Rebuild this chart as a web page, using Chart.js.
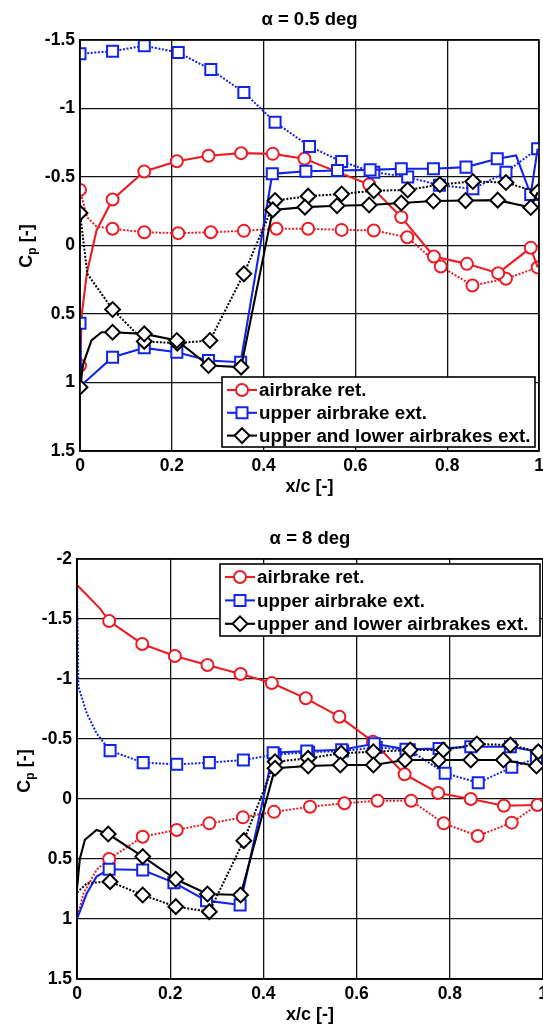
<!DOCTYPE html>
<html>
<head>
<meta charset="utf-8">
<script src="https://cdn.jsdelivr.net/npm/chart.js@4.4.1/dist/chart.umd.min.js"></script>
<style>
  html, body { margin: 0; padding: 0; background: #fff; width: 543px; height: 1024px; overflow: hidden; }
  .panel { position: absolute; left: 0; }
  #panelA { top: 0; }
  #panelB { top: 519px; }
  canvas { display: block; }
</style>
</head>
<body>
<div class="panel" id="panelA"><canvas id="cpA" width="549" height="505"></canvas></div>
<div class="panel" id="panelB"><canvas id="cpB" width="553" height="505"></canvas></div>
<script>
// ---------- axis ticks and labels ----------
const xTicks = [0, 0.2, 0.4, 0.6, 0.8, 1];
const xTickLabels = ['0', '0.2', '0.4', '0.6', '0.8', '1'];
const yTicksA = [-1.5, -1, -0.5, 0, 0.5, 1, 1.5];
const yTickLabelsA = ['-1.5', '-1', '-0.5', '0', '0.5', '1', '1.5'];
const yTicksB = [-2, -1.5, -1, -0.5, 0, 0.5, 1, 1.5];
const yTickLabelsB = ['-2', '-1.5', '-1', '-0.5', '0', '0.5', '1', '1.5'];

const titleA = 'α = 0.5 deg';
const titleB = 'α = 8 deg';
const xTitle = 'x/c [-]';
const seriesNames = ['airbrake ret.', 'upper airbrake ext.', 'upper and lower airbrakes ext.'];

// ---------- alpha = 0.5 deg ----------
// tap values (marked) and additional line vertices (unmarked)
const a1RetSolidX   = [0, 0.071, 0.14, 0.211, 0.28, 0.351, 0.42, 0.489, 0.63, 0.70, 0.771, 0.843, 0.911, 0.982];
const a1RetSolidCp  = [0.876, -0.336, -0.54, -0.615, -0.655, -0.674, -0.669, -0.633, -0.445, -0.207, 0.08, 0.134, 0.202, 0.017];
const a1RetSolidLX  = [0.004, 0.015, 0.036, 0.997];
const a1RetSolidLCp = [0.5, 0.2, -0.11, 0.16];

const a1RetDotX   = [0, 0.071, 0.14, 0.214, 0.285, 0.357, 0.428, 0.497, 0.57, 0.64, 0.713, 0.786, 0.855, 0.928, 0.997];
const a1RetDotCp  = [-0.406, -0.122, -0.097, -0.09, -0.097, -0.107, -0.122, -0.122, -0.114, -0.11, -0.06, 0.153, 0.292, 0.243, 0.16];
const a1RetDotLX  = [0.015, 0.036];
const a1RetDotLCp = [-0.207, -0.139];

const a1UpSolidX   = [0, 0.071, 0.14, 0.211, 0.28, 0.35, 0.419, 0.492, 0.561, 0.632, 0.70, 0.77, 0.841, 0.909, 0.982];
const a1UpSolidCp  = [0.567, 0.815, 0.747, 0.779, 0.839, 0.852, -0.523, -0.542, -0.547, -0.552, -0.56, -0.56, -0.572, -0.633, -0.372];
const a1UpSolidLX  = [0.003, 0.95, 0.997];
const a1UpSolidLCp = [1.02, -0.657, -0.706];

const a1UpDotX  = [0, 0.071, 0.14, 0.214, 0.285, 0.357, 0.425, 0.50, 0.57, 0.64, 0.714, 0.783, 0.856, 0.928, 0.997];
const a1UpDotCp = [-1.40, -1.418, -1.458, -1.409, -1.285, -1.117, -0.90, -0.723, -0.613, -0.535, -0.50, -0.44, -0.414, -0.535, -0.706];

const a1BothSolidX   = [0, 0.071, 0.14, 0.211, 0.28, 0.351, 0.42, 0.49, 0.56, 0.63, 0.70, 0.77, 0.84, 0.91, 0.982];
const a1BothSolidCp  = [1.034, 0.633, 0.645, 0.693, 0.876, 0.888, -0.26, -0.28, -0.29, -0.296, -0.31, -0.325, -0.328, -0.331, -0.277];
const a1BothSolidLX  = [0.007, 0.025, 0.047, 0.997];
const a1BothSolidLCp = [0.864, 0.693, 0.633, -0.389];

const a1BothDotX   = [0, 0.071, 0.14, 0.212, 0.283, 0.357, 0.425, 0.497, 0.57, 0.64, 0.714, 0.784, 0.856, 0.928, 0.997];
const a1BothDotCp  = [-0.238, 0.467, 0.70, 0.713, 0.693, 0.207, -0.328, -0.36, -0.376, -0.40, -0.405, -0.445, -0.467, -0.46, -0.389];
const a1BothDotLX  = [0.016];
const a1BothDotLCp = [0.207];

// ---------- alpha = 8 deg ----------
const a2RetSolidX   = [0.069, 0.14, 0.21, 0.28, 0.351, 0.418, 0.491, 0.563, 0.635, 0.703, 0.775, 0.845, 0.916, 0.988];
const a2RetSolidCp  = [-1.483, -1.292, -1.192, -1.117, -1.042, -0.966, -0.839, -0.686, -0.478, -0.206, -0.05, 0.0, 0.056, 0.05];
const a2RetSolidLX  = [0, 0.049];
const a2RetSolidLCp = [-1.783, -1.589];

const a2RetDotX   = [0.069, 0.141, 0.214, 0.284, 0.356, 0.423, 0.50, 0.574, 0.645, 0.717, 0.787, 0.86, 0.933];
const a2RetDotCp  = [0.5, 0.314, 0.258, 0.203, 0.153, 0.107, 0.064, 0.036, 0.014, 0.014, 0.203, 0.308, 0.197];
const a2RetDotLX  = [0, 0.014, 0.042, 0.988];
const a2RetDotLCp = [1.0, 0.786, 0.59, 0.05];

const a2UpSolidX   = [0.069, 0.141, 0.208, 0.278, 0.35, 0.421, 0.493, 0.568, 0.638, 0.706, 0.777, 0.845, 0.93, 0.996];
const a2UpSolidCp  = [0.586, 0.592, 0.697, 0.847, 0.883, -0.385, -0.40, -0.41, -0.46, -0.415, -0.42, -0.435, -0.435, -0.39];
const a2UpSolidLX  = [0, 0.021, 0.042];
const a2UpSolidLCp = [1.0, 0.786, 0.647];

const a2UpDotX   = [0.071, 0.142, 0.214, 0.284, 0.357, 0.425, 0.497, 0.57, 0.642, 0.713, 0.79, 0.861, 0.933, 0.986];
const a2UpDotCp  = [-0.403, -0.303, -0.289, -0.303, -0.325, -0.37, -0.39, -0.40, -0.43, -0.41, -0.214, -0.136, -0.264, -0.34];
const a2UpDotLX  = [0, 0.003, 0.021, 0.042];
const a2UpDotLCp = [-1.77, -0.936, -0.714, -0.547];

const a2BothSolidX   = [0.067, 0.141, 0.212, 0.28, 0.351, 0.425, 0.496, 0.565, 0.636, 0.704, 0.776, 0.845, 0.915, 0.986];
const a2BothSolidCp  = [0.292, 0.48, 0.669, 0.792, 0.80, -0.256, -0.275, -0.283, -0.283, -0.325, -0.325, -0.325, -0.325, -0.275];
const a2BothSolidLX  = [0, 0.006, 0.017, 0.042];
const a2BothSolidLCp = [0.75, 0.5, 0.34, 0.258];

const a2BothDotX   = [0.071, 0.141, 0.212, 0.284, 0.358, 0.425, 0.496, 0.567, 0.636, 0.715, 0.786, 0.858, 0.93, 0.99];
const a2BothDotCp  = [0.689, 0.80, 0.897, 0.939, 0.347, -0.31, -0.339, -0.381, -0.394, -0.408, -0.408, -0.458, -0.45, -0.394];
const a2BothDotLX  = [0, 0.022];
const a2BothDotLCp = [0.78, 0.70];

// ---------- styling ----------
const RED = 'rgb(236,28,36)';
const BLUE = 'rgb(18,36,236)';
const BLACK = 'rgb(0,0,0)';
const FONT = '"Liberation Sans", Arial, Helvetica, sans-serif';
const MARK = { circle: 6, rect: 7.8, rectRot: 7.4 };
const legendStyles = [
  { color: RED, marker: 'circle' },
  { color: BLUE, marker: 'rect' },
  { color: BLACK, marker: 'rectRot' }
];

function points(xs, cps, lx, lcp) {
  const pts = xs.map((x, i) => ({ x: x, y: cps[i], m: true }));
  (lx || []).forEach((x, i) => pts.push({ x: x, y: lcp[i], m: false }));
  pts.sort((a, b) => a.x - b.x);
  return pts;
}

function line(label, color, dotted, marker, data) {
  return {
    label: label,
    data: data,
    borderColor: color,
    backgroundColor: '#fff',
    borderWidth: dotted ? 2 : 2.1,
    borderDash: dotted ? [2, 1.6] : [],
    tension: 0,
    pointStyle: marker,
    pointRadius: c => (c.raw && c.raw.m ? MARK[marker] : 0),
    pointBorderWidth: 2,
    pointBorderColor: color,
    pointBackgroundColor: '#fff',
    fill: false
  };
}

function drawMarker(ctx, style, x, y, color) {
  const r = MARK[style];
  ctx.save();
  ctx.beginPath();
  if (style === 'circle') {
    ctx.arc(x, y, r, 0, Math.PI * 2);
  } else if (style === 'rect') {
    const s = r * Math.SQRT1_2;
    ctx.rect(x - s, y - s, 2 * s, 2 * s);
  } else {
    ctx.moveTo(x, y - r); ctx.lineTo(x + r, y); ctx.lineTo(x, y + r); ctx.lineTo(x - r, y); ctx.closePath();
  }
  ctx.fillStyle = '#fff';
  ctx.fill();
  ctx.setLineDash([]);
  ctx.lineWidth = 2;
  ctx.strokeStyle = color;
  ctx.stroke();
  ctx.restore();
}

// frame, y-axis label with subscript, and boxed legend
const decorations = {
  id: 'decorations',
  afterDraw(chart, args, opts) {
    const ctx = chart.ctx;
    const a = chart.chartArea;
    ctx.save();
    ctx.setLineDash([]);
    ctx.lineWidth = 1.6;
    ctx.strokeStyle = '#000';
    ctx.strokeRect(a.left, a.top, a.right - a.left, a.bottom - a.top);

    // y-axis label: C_p [-]
    ctx.translate(opts.yLabelX, opts.yLabelY);
    ctx.rotate(-Math.PI / 2);
    ctx.fillStyle = '#000';
    ctx.textBaseline = 'alphabetic';
    ctx.font = 'bold 18px ' + FONT;
    const wC = ctx.measureText('C').width;
    const wB = ctx.measureText(' [-]').width;
    ctx.font = 'bold 12px ' + FONT;
    const wp = ctx.measureText('p').width;
    let x0 = -(wC + wp + wB) / 2;
    ctx.font = 'bold 18px ' + FONT;
    ctx.fillText('C', x0, 0);
    ctx.font = 'bold 12px ' + FONT;
    ctx.fillText('p', x0 + wC, 4);
    ctx.font = 'bold 18px ' + FONT;
    ctx.fillText(' [-]', x0 + wC + wp, 0);
    ctx.restore();

    // legend
    const L = opts.legend;
    ctx.save();
    ctx.fillStyle = '#fff';
    ctx.fillRect(L.x, L.y, L.w, L.h);
    ctx.lineWidth = 1.6;
    ctx.strokeStyle = '#000';
    ctx.strokeRect(L.x, L.y, L.w, L.h);
    ctx.font = 'bold 18.8px ' + FONT;
    ctx.textBaseline = 'middle';
    seriesNames.forEach((name, i) => {
      const st = legendStyles[i];
      const y = L.y + L.first + i * L.step;
      ctx.beginPath();
      ctx.setLineDash([]);
      ctx.lineWidth = 2.1;
      ctx.strokeStyle = st.color;
      ctx.moveTo(L.x + 5, y);
      ctx.lineTo(L.x + 35, y);
      ctx.stroke();
      drawMarker(ctx, st.marker, L.x + 20, y, st.color);
      ctx.fillStyle = '#000';
      ctx.fillText(name, L.x + 37, y + 1);
    });
    ctx.restore();
  }
};

function makeChart(id, cfg) {
  return new Chart(document.getElementById(id), {
    type: 'line',
    data: { datasets: cfg.datasets },
    plugins: [decorations],
    options: {
      responsive: false,
      animation: false,
      events: [],
      devicePixelRatio: 1,
      layout: { padding: { left: 0, right: 10, top: 0, bottom: 0 } },
      plugins: {
        legend: { display: false },
        tooltip: { enabled: false },
        title: {
          display: true,
          text: cfg.title,
          fullSize: false,
          color: '#000',
          font: { family: FONT, size: 18.5, weight: 'bold', lineHeight: 1.2 },
          padding: { top: 9, bottom: 8.8 }
        },
        decorations: cfg.deco
      },
      scales: {
        x: {
          type: 'linear',
          min: 0, max: 1,
          afterFit: s => { s.height = cfg.xAxisHeight; },
          afterBuildTicks: s => { s.ticks = xTicks.map(v => ({ value: v })); },
          ticks: {
            color: '#000',
            padding: 5,
            maxRotation: 0,
            autoSkip: false,
            font: { family: FONT, size: 17.5, weight: 'bold' },
            callback: (v, i) => xTickLabels[i]
          },
          grid: { color: '#111', lineWidth: 1.3, drawTicks: false },
          border: { display: true, color: '#000', width: 1.6 },
          title: {
            display: true,
            text: xTitle,
            color: '#000',
            font: { family: FONT, size: 18, weight: 'bold', lineHeight: 1 },
            padding: { top: 0, bottom: cfg.xTitlePad }
          }
        },
        y: {
          type: 'linear',
          reverse: true,
          min: cfg.yTicks[0], max: cfg.yTicks[cfg.yTicks.length - 1],
          afterFit: s => { s.width = cfg.yAxisWidth; },
          afterBuildTicks: s => { s.ticks = cfg.yTicks.map(v => ({ value: v })); },
          ticks: {
            color: '#000',
            padding: 5,
            autoSkip: false,
            font: { family: FONT, size: 17.5, weight: 'bold' },
            callback: (v, i) => cfg.yTickLabels[i]
          },
          grid: { color: '#111', lineWidth: 1.3, drawTicks: false },
          border: { display: true, color: '#000', width: 1.6 }
        }
      }
    }
  });
}

makeChart('cpA', {
  title: titleA,
  yTicks: yTicksA,
  yTickLabels: yTickLabelsA,
  yAxisWidth: 80,
  xAxisHeight: 54,
  xTitlePad: 9,
  deco: { yLabelX: 32, yLabelY: 246, legend: { x: 222, y: 377, w: 313, h: 70, first: 13, step: 22.8 } },
  datasets: [
    line(seriesNames[2], BLACK, false, 'rectRot', points(a1BothSolidX, a1BothSolidCp, a1BothSolidLX, a1BothSolidLCp)),
    line(seriesNames[2], BLACK, true, 'rectRot', points(a1BothDotX, a1BothDotCp, a1BothDotLX, a1BothDotLCp)),
    line(seriesNames[1], BLUE, false, 'rect', points(a1UpSolidX, a1UpSolidCp, a1UpSolidLX, a1UpSolidLCp)),
    line(seriesNames[1], BLUE, true, 'rect', points(a1UpDotX, a1UpDotCp)),
    line(seriesNames[0], RED, false, 'circle', points(a1RetSolidX, a1RetSolidCp, a1RetSolidLX, a1RetSolidLCp)),
    line(seriesNames[0], RED, true, 'circle', points(a1RetDotX, a1RetDotCp, a1RetDotLX, a1RetDotLCp))
  ]
});

makeChart('cpB', {
  title: titleB,
  yTicks: yTicksB,
  yTickLabels: yTickLabelsB,
  yAxisWidth: 77,
  xAxisHeight: 45,
  xTitlePad: 0,
  deco: { yLabelX: 30, yLabelY: 252, legend: { x: 220, y: 45, w: 320, h: 72, first: 13, step: 23.4 } },
  datasets: [
    line(seriesNames[2], BLACK, false, 'rectRot', points(a2BothSolidX, a2BothSolidCp, a2BothSolidLX, a2BothSolidLCp)),
    line(seriesNames[2], BLACK, true, 'rectRot', points(a2BothDotX, a2BothDotCp, a2BothDotLX, a2BothDotLCp)),
    line(seriesNames[1], BLUE, false, 'rect', points(a2UpSolidX, a2UpSolidCp, a2UpSolidLX, a2UpSolidLCp)),
    line(seriesNames[1], BLUE, true, 'rect', points(a2UpDotX, a2UpDotCp, a2UpDotLX, a2UpDotLCp)),
    line(seriesNames[0], RED, false, 'circle', points(a2RetSolidX, a2RetSolidCp, a2RetSolidLX, a2RetSolidLCp)),
    line(seriesNames[0], RED, true, 'circle', points(a2RetDotX, a2RetDotCp, a2RetDotLX, a2RetDotLCp))
  ]
});
</script>
</body>
</html>
